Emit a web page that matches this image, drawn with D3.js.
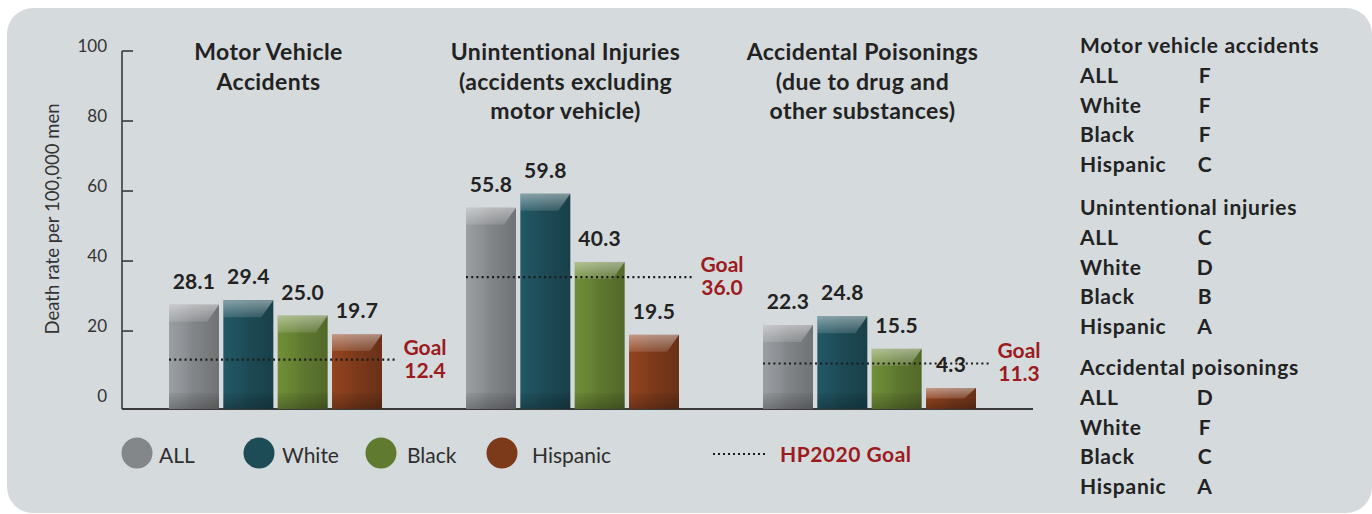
<!DOCTYPE html>
<html><head><meta charset="utf-8">
<script src="https://cdn.jsdelivr.net/npm/d3@7"></script>
<style>
html,body{margin:0;padding:0;background:#fff;}
svg{display:block;}
text{font-family:Lato,"Open Sans",sans-serif;}
</style></head>
<body>
<svg id="chart" width="1372" height="514"></svg>
<script>
// ---- data ----
const categories = ["Motor Vehicle Accidents", "Unintentional Injuries", "Accidental Poisonings"];
const categoryTitles = [
  ["Motor Vehicle", "Accidents"],
  ["Unintentional Injuries", "(accidents excluding", "motor vehicle)"],
  ["Accidental Poisonings", "(due to drug and", "other substances)"]
];
const series = ["ALL", "White", "Black", "Hispanic"];
const valuesALL = [28.1, 55.8, 22.3];
const valuesWhite = [29.4, 59.8, 24.8];
const valuesBlack = [25.0, 40.3, 15.5];
const valuesHispanic = [19.7, 19.5, 4.3];
const goals = [12.4, 36.0, 11.3];
const yTicks = [0, 20, 40, 60, 80, 100];
const seriesColors = ["#84878a", "#1d4b56", "#607a30", "#7d3a1b"];
const gradeHeadings = ["Motor vehicle accidents", "Unintentional injuries", "Accidental poisonings"];
const gradesMotor = ["F", "F", "F", "C"];
const gradesInjury = ["C", "D", "B", "A"];
const gradesPoison = ["D", "F", "C", "A"];

const seriesValues = [valuesALL, valuesWhite, valuesBlack, valuesHispanic];

const svg = d3.select("#chart");
const defs = svg.append("defs");

// panel background
svg.append("rect").attr("x", 7).attr("y", 8).attr("width", 1365).attr("height", 505)
  .attr("rx", 26).attr("fill", "#d5dadd");

// scales
const y = d3.scaleLinear().domain([-1.7, 100]).range([409, 53]);
const x0 = d3.scaleBand().domain(categories).range([127, 1018]).paddingInner(0).paddingOuter(0);
const x1 = d3.scaleBand().domain(series).range([0, 213]).paddingInner(0.08).paddingOuter(0);
const color = d3.scaleOrdinal().domain(series).range(seriesColors);

// gradients per series
series.forEach((s, i) => {
  const c = d3.color(seriesColors[i]);
  const g = defs.append("linearGradient").attr("id", "grad" + i)
    .attr("x1", "0%").attr("x2", "100%").attr("y1", "0%").attr("y2", "0%");
  g.append("stop").attr("offset", "0%").attr("stop-color", c.brighter(0.45));
  g.append("stop").attr("offset", "35%").attr("stop-color", c.brighter(0.15));
  g.append("stop").attr("offset", "45%").attr("stop-color", c);
  g.append("stop").attr("offset", "100%").attr("stop-color", c.darker(0.45));
});
const topGrad = defs.append("linearGradient").attr("id", "topHi")
  .attr("x1", "0%").attr("x2", "0%").attr("y1", "0%").attr("y2", "100%");
topGrad.append("stop").attr("offset", "0%").attr("stop-color", "#fff").attr("stop-opacity", 0.45);
topGrad.append("stop").attr("offset", "100%").attr("stop-color", "#fff").attr("stop-opacity", 0.12);
const botGrad = defs.append("linearGradient").attr("id", "botSh")
  .attr("x1", "0%").attr("x2", "0%").attr("y1", "0%").attr("y2", "100%");
botGrad.append("stop").attr("offset", "0%").attr("stop-color", "#000").attr("stop-opacity", 0.05);
botGrad.append("stop").attr("offset", "100%").attr("stop-color", "#000").attr("stop-opacity", 0.25);

// y axis
const axisG = svg.append("g").attr("transform", `translate(${122},0)`);
axisG.append("line").attr("x1", 0).attr("x2", 0).attr("y1", y(100) - 2).attr("y2", y.range()[0])
  .attr("stroke", "#3a3a3a").attr("stroke-width", 1.6);
axisG.selectAll("line.tick").data(yTicks.filter(d => d > 0)).join("line").attr("class", "tick")
  .attr("x1", 0).attr("x2", 11).attr("y1", d => y(d) - 2).attr("y2", d => y(d) - 2)
  .attr("stroke", "#3a3a3a").attr("stroke-width", 1.6);
axisG.selectAll("text.tl").data(yTicks).join("text").attr("class", "tl")
  .attr("x", -15).attr("y", d => y(d) - 1).attr("text-anchor", "end")
  .attr("font-size", 17).attr("font-weight", 400).attr("fill", "#333").text(d => d);

svg.append("text").attr("transform", "translate(59,219) rotate(-90)")
  .attr("text-anchor", "middle").attr("font-size", 18.5).attr("font-weight", 400).attr("fill", "#333")
  .text("Death rate per 100,000 men");

// baseline
svg.append("line").attr("x1", 122).attr("x2", 1033).attr("y1", y.range()[0]).attr("y2", y.range()[0])
  .attr("stroke", "#3a3a3a").attr("stroke-width", 1.8);

// groups
const groups = svg.selectAll("g.grp").data(categories).join("g").attr("class", "grp")
  .attr("transform", d => `translate(${x0(d) + (x0.bandwidth() - 213) / 2},0)`);

groups.each(function (cat, ci) {
  const g = d3.select(this);
  const bars = series.map((s, si) => ({ s, si, v: seriesValues[si][ci] }));
  const bw = x1.bandwidth();
  const base = y.range()[0];
  const bg = g.selectAll("g.bar").data(bars).join("g").attr("class", "bar");
  bg.append("rect").attr("x", d => x1(d.s)).attr("y", d => y(d.v)).attr("width", bw)
    .attr("height", d => base - y(d.v)).attr("fill", d => `url(#grad${d.si})`);
  // top highlight with slanted right edge
  bg.append("path").attr("d", d => {
    const x = x1(d.s), t = y(d.v), h = Math.min(17, (base - t) / 2);
    return `M${x},${t}H${x + bw}L${x + bw - 12},${t + h}H${x}Z`;
  }).attr("fill", "url(#topHi)");
  // bottom shade
  bg.append("rect").attr("x", d => x1(d.s)).attr("y", d => base - Math.min(16, (base - y(d.v)) / 2))
    .attr("width", bw).attr("height", d => Math.min(16, (base - y(d.v)) / 2)).attr("fill", "url(#botSh)");
  // value labels
  g.selectAll("text.val").data(bars).join("text").attr("class", "val")
    .attr("x", d => x1(d.s) + bw / 2).attr("y", d => y(d.v) - 16)
    .attr("text-anchor", "middle").attr("font-size", 21).attr("font-weight", 700).attr("fill", "#222")
    .attr("letter-spacing", 0.3)
    .text(d => d.v.toFixed(1));
  // goal line
  const gy = y(goals[ci]);
  g.append("line").attr("x1", 0).attr("x2", 213 + 15).attr("y1", gy).attr("y2", gy)
    .attr("stroke", "#1a1a1a").attr("stroke-width", 2.2).attr("stroke-dasharray", "2 3.2");
  const gl = g.append("text").attr("text-anchor", "middle").attr("font-size", 21).attr("font-weight", 700)
    .attr("fill", "#9b1b20");
  gl.append("tspan").attr("x", 213 + 43).attr("y", gy - 5).text("Goal");
  gl.append("tspan").attr("x", 213 + 43).attr("y", gy + 18).text(goals[ci].toFixed(1));
  // title
  const tt = g.append("text").attr("text-anchor", "middle").attr("font-size", 23).attr("font-weight", 700)
    .attr("fill", "#222").attr("letter-spacing", 0.4);
  categoryTitles[ci].forEach((line, li) => {
    tt.append("tspan").attr("x", 213 / 2 - 7).attr("y", 60 + li * 29.5).text(line);
  });
});

// legend
const legX = d3.scaleOrdinal().domain(series).range([137, 259, 381, 502]);
const legTextX = d3.scaleOrdinal().domain(series).range([159, 282, 407, 532]);
const leg = svg.selectAll("g.leg").data(series).join("g").attr("class", "leg");
leg.append("circle").attr("cx", d => legX(d)).attr("cy", 453).attr("r", 15.5).attr("fill", d => color(d));
leg.append("text").attr("x", d => legTextX(d))
  .attr("y", 463).attr("font-size", 21).attr("font-weight", 400).attr("fill", "#2e2e2e").text(d => d);
svg.append("line").attr("x1", 713).attr("x2", 768).attr("y1", 454).attr("y2", 454)
  .attr("stroke", "#1a1a1a").attr("stroke-width", 2).attr("stroke-dasharray", "2 3");
svg.append("text").attr("x", 780).attr("y", 462).attr("font-size", 21).attr("font-weight", 700)
  .attr("fill", "#9b1b20").attr("letter-spacing", 0.5).text("HP2020 Goal");

// grades panel
const gradeLists = [gradesMotor, gradesInjury, gradesPoison];
const gp = svg.append("g").attr("font-size", 21).attr("font-weight", 700).attr("fill", "#222")
  .attr("letter-spacing", 0.75);
const blockTop = [53, 215, 375];
gradeLists.forEach((grades, bi) => {
  gp.append("text").attr("x", 1080).attr("y", blockTop[bi]).text(gradeHeadings[bi]);
  series.forEach((s, si) => {
    const yy = blockTop[bi] + 30 + si * 29.5;
    gp.append("text").attr("x", 1080).attr("y", yy).text(s);
    gp.append("text").attr("x", 1205).attr("y", yy).attr("text-anchor", "middle").text(grades[si]);
  });
});
</script>
</body></html>
